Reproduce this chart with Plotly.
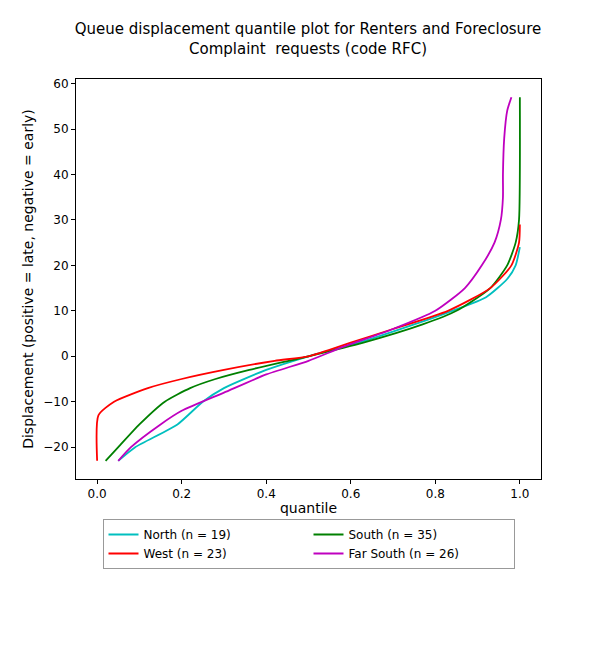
import plotly.graph_objects as go

north_y = [-23, -20, -15, -10, -7, -3, 0, 3, 7, 10, 13, 17, 20, 24]
north_q = [0.05, 0.09, 0.19, 0.25, 0.30, 0.40, 0.50, 0.62, 0.75, 0.84, 0.92, 0.97, 0.99, 1.0]

west_y = [-23, -13, -10, -7, -5, -3, -1, 0, 3, 6, 10, 15, 20, 25, 29]
west_q = [0.0, 0.003, 0.04, 0.12, 0.20, 0.30, 0.42, 0.50, 0.60, 0.70, 0.83, 0.93, 0.98, 0.998, 1.0]

south_y = [-23, -20, -15, -10, -7, -5, -3, 0, 3, 7, 10, 15, 20, 25, 30, 57]
south_q = [0.02, 0.05, 0.10, 0.16, 0.22, 0.28, 0.36, 0.50, 0.63, 0.77, 0.85, 0.93, 0.97, 0.99, 0.998, 1.0]

far_y = [-23, -20, -15, -12, -8, -4, -1, 2, 6, 10, 15, 20, 25, 30, 35, 40, 48, 54, 57]
far_q = [0.05, 0.08, 0.15, 0.20, 0.30, 0.40, 0.50, 0.58, 0.70, 0.80, 0.87, 0.91, 0.94, 0.955, 0.96, 0.96, 0.963, 0.97, 0.98]

series = [
    ("North (n = 19)", north_q, north_y, "#00bfbf"),
    ("South (n = 35)", south_q, south_y, "green"),
    ("West (n = 23)", west_q, west_y, "red"),
    ("Far South (n = 26)", far_q, far_y, "#bf00bf"),
]

fig = go.Figure()
for name, q, y, c in series:
    fig.add_trace(go.Scatter(x=q, y=y, name=name, mode="lines",
                             line=dict(color=c, width=1.8, shape="spline", smoothing=0.6)))

axis = dict(showgrid=False, zeroline=False, showline=True, linecolor="black", mirror=True,
            ticks="outside", tickcolor="black", ticklen=4)
fig.update_layout(
    width=600, height=650, plot_bgcolor="white", paper_bgcolor="white",
    font=dict(family="DejaVu Sans", size=12, color="black"),
    title=dict(text="Queue displacement quantile plot for Renters and Foreclosure<br>Complaint  requests (code RFC)",
               x=0.5, xanchor="center", y=0.96, font=dict(size=15)),
    margin=dict(l=68, r=67, t=71, b=179),
    xaxis=dict(axis, range=[-0.05, 1.05], tickvals=[0, 0.2, 0.4, 0.6, 0.8, 1.0],
               ticktext=["0.0", "0.2", "0.4", "0.6", "0.8", "1.0"],
               title=dict(text="quantile", standoff=2)),
    yaxis=dict(axis, range=[-27, 61], tickvals=[-20, -10, 0, 10, 20, 30, 40, 50, 60],
               ticktext=["\u221220", "\u221210", "0", "10", "20", "30", "40", "50", "60"],
               title=dict(text="Displacement (positive = late, negative = early)", standoff=6)),
    legend=dict(orientation="h", x=0.5, xanchor="center", y=-0.1, yanchor="top",
                bordercolor="#999", borderwidth=1, entrywidth=160,
                font=dict(size=12)),
)
fig.write_html("out.html")
